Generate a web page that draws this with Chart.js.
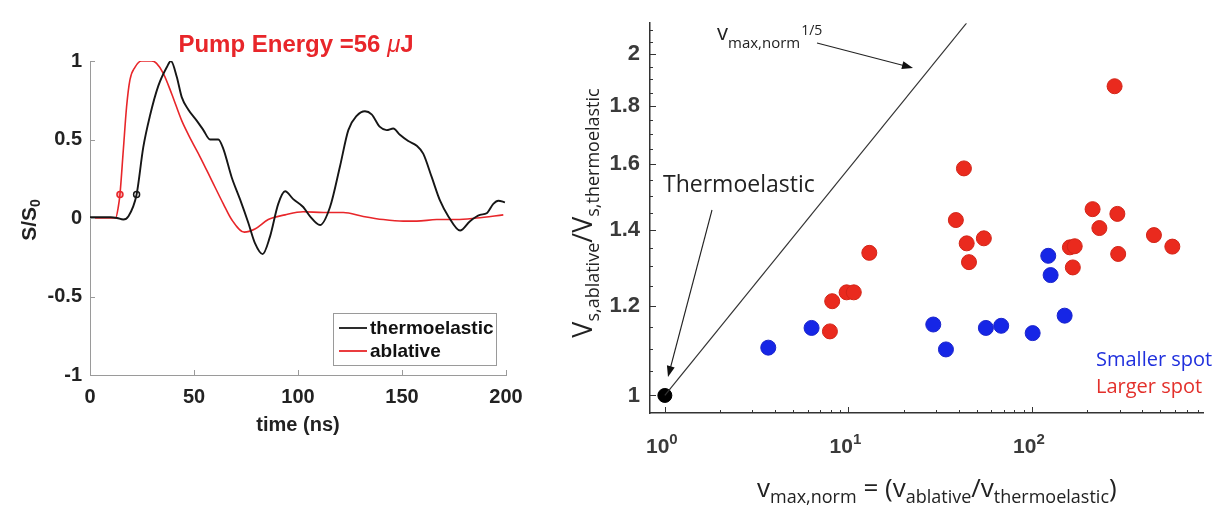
<!DOCTYPE html>
<html>
<head>
<meta charset="utf-8">
<script src="https://cdn.jsdelivr.net/npm/chart.js@4.4.1/dist/chart.umd.min.js"></script>
<style>
  body { margin: 0; background: #fff; }
  #wrap { position: relative; width: 1225px; height: 508px; }
  #left { position: absolute; left: 0; top: 0; }
  #right { position: absolute; left: 540px; top: 0; }
</style>
</head>
<body>
<div id="wrap">
  <canvas id="left" width="540" height="508"></canvas>
  <canvas id="right" width="685" height="508"></canvas>
</div>
<script>
// --- left panel: normalised signals vs time ---
const thermoTime = [0, 5, 10, 13, 16, 18.4, 22.4, 25.6, 28.8, 32.8, 36.9, 38.9, 41.7, 44.1, 47.3, 51.3, 54.5, 57.7, 61.7, 64.1, 68.1, 72.1, 76.1, 79.3, 83.0, 86.5, 90.5, 93.8, 97.7, 102.5, 105.8, 110.6, 115.4, 120.2, 124.2, 128.2, 132.2, 135.4, 139.4, 142.6, 145.8, 149.0, 153.0, 157.1, 160.2, 164.3, 168.3, 172.3, 177.9, 182.7, 187.5, 190.7, 193.9, 196.3, 199.5]
const thermoSig = [0.005, 0.005, 0.005, 0.0, -0.01, 0.01, 0.15, 0.45, 0.65, 0.84, 0.96, 1.0, 0.90, 0.77, 0.69, 0.62, 0.56, 0.50, 0.50, 0.44, 0.26, 0.12, -0.03, -0.16, -0.23, -0.12, 0.09, 0.17, 0.12, 0.07, 0.01, -0.045, 0.07, 0.33, 0.56, 0.65, 0.68, 0.66, 0.58, 0.56, 0.57, 0.53, 0.49, 0.46, 0.41, 0.26, 0.11, 0.01, -0.08, -0.02, 0.02, 0.03, 0.09, 0.11, 0.10]
const ablTime = [0, 5, 10, 12.3, 13.6, 14.4, 16.0, 17.6, 19.2, 21.6, 24.8, 29.6, 32.0, 35.3, 39.3, 44.1, 48.9, 52.9, 58.5, 64.1, 68.1, 74.2, 79.3, 85.7, 93.8, 102.5, 112.2, 121.8, 131.4, 141.0, 150.6, 157.1, 166.7, 176.3, 185.9, 198.7]
const ablSig = [0.0, 0.0, 0.0, 0.0, 0.07, 0.15, 0.43, 0.71, 0.88, 0.96, 1.0, 1.0, 0.985, 0.92, 0.79, 0.62, 0.49, 0.39, 0.24, 0.09, -0.01, -0.09, -0.07, -0.01, 0.02, 0.04, 0.035, 0.035, 0.01, -0.01, -0.02, -0.02, -0.01, -0.01, 0.0, 0.02]
// arrival markers (time, level)
const onsetThermo = [22.4, 0.15]
const onsetAbl = [14.4, 0.15]
const timeTicks = [0, 50, 100, 150, 200]
const sigTicks = [-1, -0.5, 0, 0.5, 1]

// --- right panel: velocity ratio vs normalised max velocity ---
const smallX = [3.66, 6.30, 29.0, 34.0, 56.1, 68.0, 100.9, 150.7, 122.7, 126.4]
const smallY = [1.102, 1.147, 1.155, 1.098, 1.147, 1.152, 1.135, 1.176, 1.328, 1.277]
const largeX = [7.93, 8.16, 9.78, 10.7, 13.0, 42.6, 38.5, 44.1, 54.7, 45.4, 282, 214, 292, 233, 462, 582, 161, 171, 295, 167]
const largeY = [1.139, 1.211, 1.233, 1.233, 1.336, 1.586, 1.428, 1.362, 1.376, 1.311, 1.874, 1.460, 1.446, 1.405, 1.385, 1.353, 1.351, 1.354, 1.333, 1.297]
const refX = [1]
const refY = [1]
// v^(1/5) is straight on log-log axes: two ends are enough
const powX = [1, 44]
const powY = [1, 2.13]
const ratioTicks = [1, 1.2, 1.4, 1.6, 1.8, 2]
const decadeTicks = [1, 10, 100]

const pts = (xs, ys) => xs.map((x, i) => ({ x, y: ys[i] }))
const ARIAL = "'Liberation Sans', Arial, sans-serif"
const SANS = "'Open Sans', sans-serif"
const RED = '#e8262a'

// draw a run of text pieces [text, font, dy, color]
const drawRun = (ctx, x, y, parts) => {
  parts.forEach(([t, font, dy, color]) => {
    ctx.font = font
    if (color) ctx.fillStyle = color
    ctx.fillText(t, x, y + dy)
    x += ctx.measureText(t).width
  })
  return x
}
const runWidth = (ctx, parts) => parts.reduce((w, [t, font]) => {
  ctx.font = font
  return w + ctx.measureText(t).width
}, 0)

const arrow = (ctx, x0, y0, x1, y1) => {
  const a = Math.atan2(y1 - y0, x1 - x0)
  const len = 11, hw = 4
  ctx.beginPath()
  ctx.moveTo(x0, y0)
  ctx.lineTo(x1 - Math.cos(a) * len * 0.8, y1 - Math.sin(a) * len * 0.8)
  ctx.stroke()
  ctx.beginPath()
  ctx.moveTo(x1, y1)
  ctx.lineTo(x1 - Math.cos(a) * len - Math.sin(a) * hw, y1 - Math.sin(a) * len + Math.cos(a) * hw)
  ctx.lineTo(x1 - Math.cos(a) * len + Math.sin(a) * hw, y1 - Math.sin(a) * len - Math.cos(a) * hw)
  ctx.closePath()
  ctx.fill()
}

const leftDecor = {
  id: 'leftDecor',
  afterDraw (chart) {
    const { ctx, chartArea: area } = chart
    const xs = chart.scales.x, ys = chart.scales.y
    ctx.save()
    // inward tick marks
    ctx.strokeStyle = '#9a9a9a'
    ctx.lineWidth = 1
    ctx.beginPath()
    timeTicks.slice(1).forEach(v => {
      const px = Math.round(xs.getPixelForValue(v)) + 0.5
      ctx.moveTo(px, area.bottom); ctx.lineTo(px, area.bottom - 5)
    })
    sigTicks.slice(1).forEach(v => {
      const py = Math.round(ys.getPixelForValue(v)) + 0.5
      ctx.moveTo(area.left, py); ctx.lineTo(area.left + 5, py)
    })
    ctx.stroke()

    // title
    const tParts = [
      ['Pump Energy =56 ', `bold 24px ${ARIAL}`, 0, RED],
      ['\u03bc', `italic 24px ${ARIAL}`, 0, RED],
      ['J', `bold 24px ${ARIAL}`, 0, RED]
    ]
    ctx.textBaseline = 'alphabetic'
    ctx.textAlign = 'left'
    drawRun(ctx, 296 - runWidth(ctx, tParts) / 2, 52, tParts)

    // y label S/S0
    ctx.save()
    ctx.translate(36, 220)
    ctx.rotate(-Math.PI / 2)
    const yParts = [
      ['S/S', `bold 21px ${ARIAL}`, 0, '#222'],
      ['0', `bold 14px ${ARIAL}`, 4, '#222']
    ]
    drawRun(ctx, -runWidth(ctx, yParts) / 2, 0, yParts)
    ctx.restore()

    // legend
    ctx.fillStyle = '#fff'
    ctx.fillRect(333, 313, 163, 52)
    ctx.strokeStyle = '#9a9a9a'
    ctx.strokeRect(333.5, 313.5, 163, 52)
    chart.data.datasets.slice(0, 2).forEach((ds, i) => {
      const y = 328 + i * 23
      ctx.strokeStyle = ds.borderColor
      ctx.lineWidth = 1.8
      ctx.beginPath(); ctx.moveTo(339, y); ctx.lineTo(367, y); ctx.stroke()
      ctx.fillStyle = '#111'
      ctx.font = `bold 19px ${ARIAL}`
      ctx.textBaseline = 'middle'
      ctx.fillText(ds.label, 370, y + 1)
    })
    ctx.restore()
  }
}

new Chart(document.getElementById('left'), {
  type: 'line',
  data: {
    datasets: [
      { label: 'thermoelastic', data: pts(thermoTime, thermoSig), borderColor: '#161616', borderWidth: 1.9, pointRadius: 0, cubicInterpolationMode: 'monotone' },
      { label: 'ablative', data: pts(ablTime, ablSig), borderColor: RED, borderWidth: 1.6, pointRadius: 0, cubicInterpolationMode: 'monotone' },
      { label: 'onset-t', data: [{ x: onsetThermo[0], y: onsetThermo[1] }], showLine: false, pointRadius: 3, pointBorderWidth: 1.5, pointBorderColor: '#161616', pointBackgroundColor: 'rgba(0,0,0,0)' },
      { label: 'onset-a', data: [{ x: onsetAbl[0], y: onsetAbl[1] }], showLine: false, pointRadius: 3, pointBorderWidth: 1.5, pointBorderColor: RED, pointBackgroundColor: 'rgba(232,38,42,0.35)' }
    ]
  },
  options: {
    responsive: false,
    animation: false,
    layout: { padding: { top: 61, right: 34, left: 0, bottom: 0 } },
    plugins: { legend: { display: false }, tooltip: { enabled: false } },
    scales: {
      x: {
        type: 'linear', min: 0, max: 200,
        afterBuildTicks: s => { s.ticks = timeTicks.map(value => ({ value })) },
        grid: { display: false, drawTicks: false },
        border: { color: '#9a9a9a', width: 1 },
        ticks: { color: '#222', padding: 10, callback: v => String(v), font: { family: ARIAL, weight: 'bold', size: 20 } },
        title: { display: true, text: 'time (ns)', color: '#222', font: { family: ARIAL, weight: 'bold', size: 20 }, padding: { top: 0, bottom: 71 } },
        afterFit: s => { s.height = 133 }
      },
      y: {
        type: 'linear', min: -1, max: 1,
        afterBuildTicks: s => { s.ticks = sigTicks.map(value => ({ value })) },
        grid: { display: false, drawTicks: false },
        border: { color: '#9a9a9a', width: 1 },
        ticks: { color: '#222', padding: 8, callback: v => String(v), font: { family: ARIAL, weight: 'bold', size: 20 } },
        afterFit: s => { s.width = 90 }
      }
    }
  },
  plugins: [leftDecor]
})

const rightDecor = {
  id: 'rightDecor',
  afterDraw (chart) {
    const { ctx, chartArea: area } = chart
    const xs = chart.scales.x, ys = chart.scales.y
    ctx.save()
    // log ticks, pointing into the plot
    ctx.strokeStyle = '#333'
    ctx.lineWidth = 1
    ctx.beginPath()
    decadeTicks.forEach(d => {
      for (let m = 1; m <= 9; m++) {
        const v = m * d
        if (v < xs.min || v > xs.max) continue
        const px = Math.round(xs.getPixelForValue(v)) + 0.5
        ctx.moveTo(px, area.bottom); ctx.lineTo(px, area.bottom - (m === 1 ? 6 : 3))
      }
    })
    for (let k = 0; k <= 22; k++) {
      const v = 1 + k * 0.05
      if (v > ys.max) break
      const major = k % 4 === 0
      const py = Math.round(ys.getPixelForValue(v)) + 0.5
      ctx.moveTo(area.left, py); ctx.lineTo(area.left + (major ? 6 : 3), py)
    }
    ctx.stroke()

    // decade labels 10^n
    ctx.textBaseline = 'alphabetic'
    decadeTicks.forEach((d, n) => {
      const parts = [['10', `bold 21px ${ARIAL}`, 0, '#3a3a3a'], [String(n), `bold 15px ${ARIAL}`, -9, '#3a3a3a']]
      const px = xs.getPixelForValue(d)
      drawRun(ctx, px - runWidth(ctx, parts) / 2 - 3, 453, parts)
    })

    // axis titles
    const main = `26px ${SANS}`, sub = `18px ${SANS}`
    const xt = [
      ['v', main, 0, '#222'], ['max,norm', sub, 6], [' = (v', main, 0], ['ablative', sub, 6],
      ['/v', main, 0], ['thermoelastic', sub, 6], [')', main, 0]
    ]
    drawRun(ctx, 217, 497, xt)

    ctx.save()
    ctx.translate(52, 213)
    ctx.rotate(-Math.PI / 2)
    const yt = [['V', `27px ${SANS}`, 0, '#222'], ['s,ablative', sub, 7], ['/V', `27px ${SANS}`, 0], ['s,thermoelastic', sub, 7]]
    drawRun(ctx, -runWidth(ctx, yt) / 2, 0, yt)
    ctx.restore()

    // annotations
    ctx.fillStyle = '#222'
    let x = drawRun(ctx, 177, 40, [['v', `22px ${SANS}`, 0, '#222'], ['max,norm', `15px ${SANS}`, 8]])
    drawRun(ctx, x + 1, 35, [['1/5', `14px ${SANS}`, 0]])
    drawRun(ctx, 123, 192, [['Thermoelastic', `23px ${SANS}`, 0]])
    ctx.strokeStyle = '#222'
    ctx.fillStyle = '#111'
    ctx.lineWidth = 1.1
    arrow(ctx, 277, 43, 373, 68)
    arrow(ctx, 172, 210, 128, 377)

    drawRun(ctx, 556, 366, [['Smaller spot', `20px ${SANS}`, 0, '#2030dd']])
    drawRun(ctx, 556, 393, [['Larger spot', `20px ${SANS}`, 0, '#e3302b']])
    ctx.restore()
  }
}

new Chart(document.getElementById('right'), {
  type: 'scatter',
  data: {
    datasets: [
      { label: 'v^1/5', data: pts(powX, powY), showLine: true, pointRadius: 0, borderColor: '#333', borderWidth: 1.2 },
      { label: 'Smaller spot', data: pts(smallX, smallY), pointRadius: 7.5, backgroundColor: '#1626e6', borderColor: '#1a24cc', borderWidth: 1 },
      { label: 'Larger spot', data: pts(largeX, largeY), pointRadius: 7.5, backgroundColor: '#ea2a1e', borderColor: '#d22518', borderWidth: 1 },
      { label: 'Thermoelastic', data: pts(refX, refY), pointRadius: 7, backgroundColor: '#000', borderColor: '#000', borderWidth: 1 }
    ]
  },
  options: {
    responsive: false,
    animation: false,
    layout: { padding: { top: 13, right: 22, left: 0, bottom: 0 } },
    plugins: { legend: { display: false }, tooltip: { enabled: false } },
    scales: {
      x: {
        type: 'logarithmic', min: 0.83, max: 855,
        grid: { display: false, drawTicks: false },
        border: { color: '#333', width: 1.5 },
        ticks: { display: false },
        afterFit: s => { s.height = 95 }
      },
      y: {
        type: 'logarithmic', min: 0.965, max: 2.13,
        afterBuildTicks: s => { s.ticks = ratioTicks.map(value => ({ value })) },
        grid: { display: false, drawTicks: false },
        border: { color: '#333', width: 1.5 },
        ticks: { color: '#3a3a3a', padding: 10, callback: v => String(v), font: { family: ARIAL, weight: 'bold', size: 22 } },
        afterFit: s => { s.width = 110 }
      }
    }
  },
  plugins: [rightDecor]
})
</script>
</body>
</html>
